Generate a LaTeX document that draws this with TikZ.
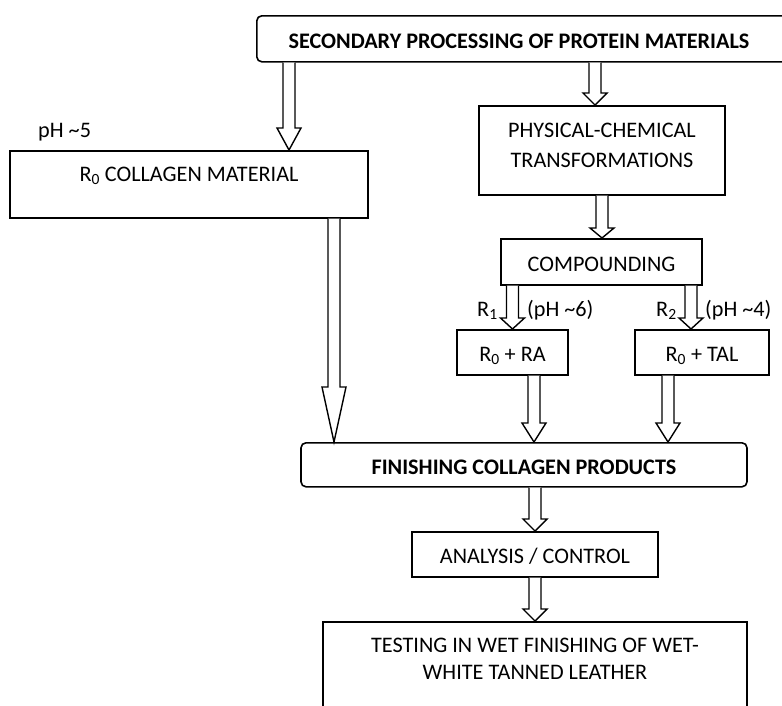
\documentclass[tikz,border=0pt]{standalone}
\usepackage{fontspec}
\setmainfont{Carlito}
\usetikzlibrary{calc}
\newcommand\barrow[4]{%
  \draw[arrowline] let \p1=(#2.south), \p2=(#3.north) in
    (#1pt-6pt,\y1) -- (#1pt-6pt,\y2+#4pt) -- (#1pt-12pt,\y2+#4pt) -- (#1pt,\y2)
    -- (#1pt+12pt,\y2+#4pt) -- (#1pt+6pt,\y2+#4pt) -- (#1pt+6pt,\y1);}
\begin{document}
\begin{tikzpicture}[x=1pt,y=-1pt,
  every node/.style={font=\fontsize{22.2}{30}\selectfont},
  box/.style={draw,line width=1.6pt,inner sep=0pt,anchor=north,align=center},
  rbox/.style={box,rounded corners=5pt},
  arrowline/.style={line width=1.4pt,line join=miter,fill=white},
  lbl/.style={anchor=base west,inner sep=0pt}]
\useasboundingbox (0,0) rectangle (782,705);
\clip (0,0) rectangle (782,705);
% boxes
\node[rbox,anchor=north west,minimum width=560,minimum height=46] (top) at (256,15) {};
\node[anchor=base,inner sep=0pt] (toptext) at (519,48) {\bfseries SECONDARY PROCESSING OF PROTEIN MATERIALS};
\node[box,minimum width=358,text height=31,text depth=36] (r0) at (189,150) {R\textsubscript{0} COLLAGEN MATERIAL};
\node[box,minimum width=246,text height=62,text depth=27] (phys) at (602,105) {PHYSICAL-CHEMICAL\\TRANSFORMATIONS};
\node[box,minimum width=201,text height=33,text depth=13] (comp) at (601.5,238) {COMPOUNDING};
\node[box,minimum width=111,text height=32,text depth=13] (ra) at (512.5,329) {R\textsubscript{0} + RA};
\node[box,minimum width=134,text height=32,text depth=13] (tal) at (702,329) {R\textsubscript{0} + TAL};
\node[rbox,minimum width=446,text height=32,text depth=12] (fin) at (524,442) {\bfseries FINISHING COLLAGEN PRODUCTS};
\node[box,minimum width=246,text height=32,text depth=13] (ana) at (535,531) {ANALYSIS / CONTROL};
\node[box,minimum width=424,text height=58,text depth=63,font=\fontsize{22.2}{27}\selectfont] (test) at (535,621) {TESTING IN WET FINISHING OF WET-\\WHITE TANNED LEATHER};
% labels
\node[lbl] (ph5) at (38,137) {pH \textasciitilde5};
\node[lbl] (r1) at (477,316) {R\textsubscript{1}};
\node[lbl] (ph6) at (527,316) {(pH \textasciitilde6)};
\node[lbl] (r2) at (656,316) {R\textsubscript{2}};
\node[lbl] (ph4) at (705,316) {(pH \textasciitilde4)};
% block arrows
\barrow{289}{top}{r0}{22}
\barrow{595}{top}{phys}{12}
\barrow{602}{phys}{comp}{10}
\barrow{512.5}{comp}{ra}{11}
\barrow{691}{comp}{tal}{11}
\barrow{334}{r0}{fin}{55}
\barrow{534}{ra}{fin}{19}
\barrow{668}{tal}{fin}{19}
\barrow{535}{fin}{ana}{12}
\barrow{535}{ana}{test}{12}
\end{tikzpicture}
\end{document}
